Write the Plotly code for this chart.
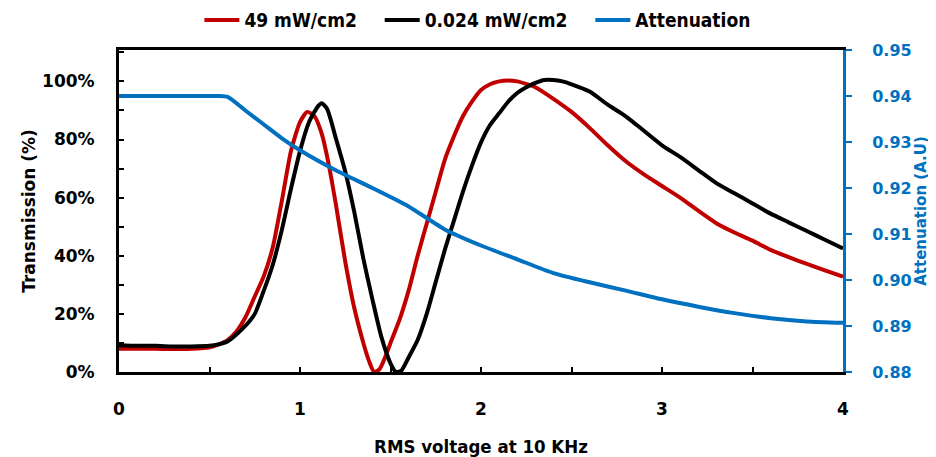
import plotly.graph_objects as go

# ---- data ----
x_red = [0.0, 0.1, 0.2, 0.3, 0.4, 0.5, 0.55, 0.6, 0.65, 0.7, 0.75, 0.8, 0.85, 0.9, 0.95, 1.0, 1.04, 1.08,
         1.12, 1.16, 1.2, 1.25, 1.3, 1.35, 1.38, 1.41, 1.44, 1.47, 1.5, 1.55, 1.6, 1.65, 1.7, 1.75, 1.8,
         1.85, 1.9, 1.95, 2.0, 2.05, 2.1, 2.15, 2.2, 2.3, 2.4, 2.5, 2.6, 2.7, 2.8, 2.9, 3.0, 3.1, 3.2,
         3.3, 3.4, 3.5, 3.6, 3.7, 3.8, 3.9, 4.0]
t_red = [0.080, 0.080, 0.080, 0.079, 0.080, 0.085, 0.095, 0.11, 0.14, 0.19, 0.26, 0.33, 0.43, 0.59, 0.76,
         0.86, 0.895, 0.88, 0.82, 0.71, 0.57, 0.38, 0.22, 0.10, 0.04, 0.0, 0.01, 0.05, 0.10, 0.18, 0.28,
         0.40, 0.51, 0.62, 0.73, 0.81, 0.88, 0.93, 0.97, 0.99, 1.00, 1.003, 1.0, 0.98, 0.94, 0.895, 0.84,
         0.78, 0.725, 0.68, 0.64, 0.60, 0.555, 0.512, 0.48, 0.452, 0.42, 0.395, 0.372, 0.35, 0.328]

x_blk = [0.0, 0.1, 0.2, 0.3, 0.4, 0.5, 0.55, 0.6, 0.65, 0.7, 0.75, 0.8, 0.85, 0.9, 0.95, 1.0, 1.05, 1.1,
         1.12, 1.15, 1.2, 1.25, 1.3, 1.35, 1.4, 1.45, 1.5, 1.53, 1.56, 1.6, 1.65, 1.7, 1.75, 1.8, 1.85,
         1.9, 1.95, 2.0, 2.05, 2.1, 2.15, 2.2, 2.25, 2.3, 2.35, 2.4, 2.45, 2.5, 2.6, 2.7, 2.8, 2.9, 3.0,
         3.1, 3.2, 3.3, 3.4, 3.5, 3.6, 3.7, 3.8, 3.9, 4.0]
t_blk = [0.092, 0.090, 0.090, 0.088, 0.088, 0.090, 0.095, 0.105, 0.13, 0.16, 0.20, 0.28, 0.37, 0.49, 0.63,
         0.76, 0.86, 0.915, 0.925, 0.905, 0.80, 0.69, 0.55, 0.39, 0.25, 0.12, 0.03, 0.0, 0.005, 0.05,
         0.11, 0.20, 0.31, 0.42, 0.52, 0.62, 0.71, 0.79, 0.85, 0.89, 0.93, 0.96, 0.98, 0.995, 1.005,
         1.005, 1.0, 0.99, 0.965, 0.92, 0.88, 0.83, 0.78, 0.74, 0.695, 0.65, 0.615, 0.58, 0.545, 0.515,
         0.485, 0.455, 0.425]

x_att = [0.0, 0.2, 0.4, 0.55, 0.6, 0.7, 0.8, 0.9, 1.0, 1.2, 1.4, 1.6, 1.8, 2.0, 2.2, 2.4, 2.6, 2.8, 3.0,
         3.2, 3.4, 3.6, 3.8, 4.0]
a_att = [0.940, 0.940, 0.940, 0.940, 0.9398, 0.9368, 0.9338, 0.9308, 0.9282, 0.9238, 0.9200, 0.9160,
         0.9110, 0.9075, 0.9045, 0.9015, 0.8995, 0.8977, 0.8958, 0.8942, 0.8928, 0.8917, 0.8910, 0.8907]

x_ticks = [0, 1, 2, 3, 4]
names = ["49 mW/cm2", "0.024 mW/cm2", "Attenuation"]

RED = "#C00000"
BLACK = "#000000"
BLUE = "#0070C0"
TICKFONT = "DejaVu Sans"
NARROW = "DejaVu Sans Condensed, Liberation Sans Narrow, sans-serif"
PAD = "\u00a0\u00a0\u00a0"

fig = go.Figure()
fig.add_trace(go.Scatter(x=x_red, y=t_red, name=names[0] + PAD, mode="lines",
                         line=dict(color=RED, width=4, shape="spline", smoothing=0.6)))
fig.add_trace(go.Scatter(x=x_blk, y=t_blk, name=names[1] + PAD, mode="lines",
                         line=dict(color=BLACK, width=4, shape="spline", smoothing=0.6)))
fig.add_trace(go.Scatter(x=x_att, y=a_att, name=names[2], mode="lines", yaxis="y2",
                         line=dict(color=BLUE, width=4, shape="spline", smoothing=0.6)))

fig.update_layout(
    width=928, height=449,
    margin=dict(l=111, r=93, t=42, b=85, autoexpand=False),
    paper_bgcolor="white", plot_bgcolor="white",
    showlegend=True,
    legend=dict(orientation="h", x=0.495, xanchor="center", y=1.093, yanchor="middle",
                font=dict(family=NARROW, size=19, color="black", weight="bold"),
                itemwidth=35, tracegroupgap=0, bgcolor="rgba(0,0,0,0)"),
    xaxis=dict(range=[0, 4], tickvals=x_ticks, ticks="inside", ticklen=5, tickwidth=2,
               tickcolor="black", showline=True, linecolor="black", linewidth=3, mirror=True,
               showgrid=False, zeroline=False, automargin=False, ticklabelstandoff=20,
               minor=dict(dtick=0.5, ticks="inside", ticklen=5, tickwidth=2, tickcolor="black"),
               tickfont=dict(family=TICKFONT, size=17, color="black", weight="bold"),
               title=dict(text="RMS voltage at 10 KHz", standoff=22,
                          font=dict(family=NARROW, size=18.5, color="black", weight="bold"))),
    yaxis=dict(range=[0, 1.108], dtick=0.2, tick0=0, tickformat=".0%", ticks="inside", ticklen=5,
               tickwidth=2, tickcolor="black", showline=True, linecolor="black", linewidth=3,
               showgrid=False, zeroline=False, automargin=False, ticklabelstandoff=18,
               minor=dict(dtick=0.1, ticks="inside", ticklen=5, tickwidth=2, tickcolor="black"),
               tickfont=dict(family=TICKFONT, size=17, color="black", weight="bold"),
               title=dict(text="Transmission (%)", standoff=3,
                          font=dict(family=TICKFONT, size=17, color="black", weight="bold"))),
    yaxis2=dict(overlaying="y", side="right", range=[0.88, 0.95], dtick=0.01, tick0=0.88,
                tickformat=".2f", ticks="outside", ticklen=6, tickwidth=2, tickcolor=BLUE,
                showline=True, linecolor=BLUE, linewidth=3, showgrid=False, zeroline=False,
                automargin=False, ticklabelstandoff=17,
                tickfont=dict(family=TICKFONT, size=16, color=BLUE, weight="bold"),
                title=dict(text="Attenuation (A.U)", standoff=0,
                           font=dict(family=TICKFONT, size=15, color=BLUE, weight="bold"))),
)

fig.write_html("out.html")
